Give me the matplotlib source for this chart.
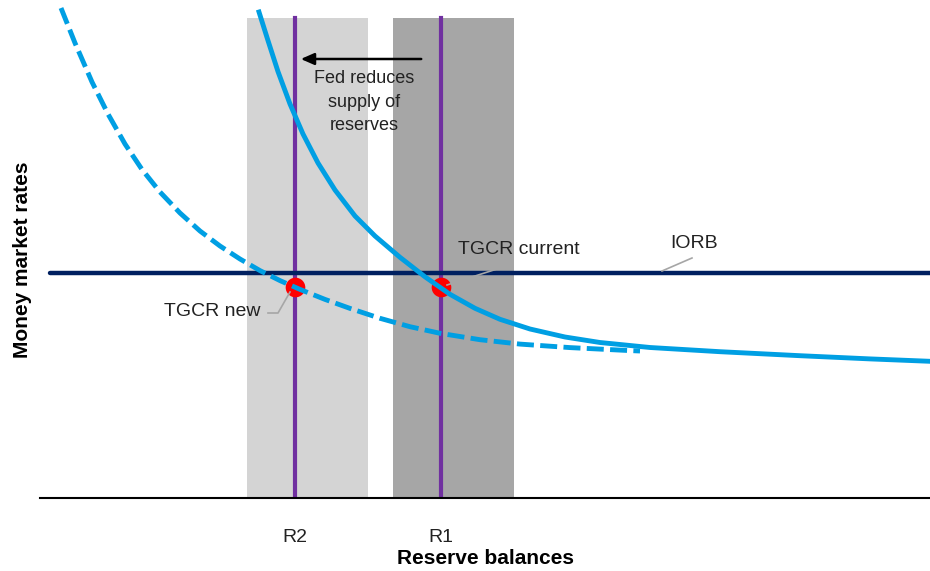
import matplotlib.pyplot as plt
from matplotlib import font_manager

# Conceptual chart: reserve demand curve, x = reserve balances, y = money market rates
# (units are arbitrary, roughly chart pixels)
band_labels = ["R2", "R1"]
band_centers = [295, 441]
band_left = [247, 393]
band_width = 121
band_colors = ["#d4d4d4", "#a6a6a6"]
band_top = 480

iorb_level = 225
iorb_start = 50

# demand curve, current position (solid)
cur_x = [259, 268, 278, 290, 303, 318, 335, 355, 375, 400, 425, 450, 475, 500,
         530, 565, 600, 650, 720, 800, 870, 930]
cur_y = [486, 457.4, 426.4, 394, 364, 335, 308, 282, 262, 240.7, 221.2, 203.7,
         189.7, 178.7, 169, 161, 155.5, 150.5, 146.3, 142.3, 139.1, 136.7]

# demand curve after reserves shift left (dashed)
new_x = [61, 75, 92, 108, 125, 142, 160, 180, 200, 220, 240, 260, 280, 300, 325,
         350, 380, 410, 440, 480, 520, 570, 630, 640]
new_y = [490, 455, 416, 384, 354, 328.5, 306, 285, 267, 252, 239, 227.4, 217.4,
         208.6, 198.6, 189.6, 179.7, 171.3, 164.7, 158.3, 153.9, 150.4, 147.4, 147]

tgcr_x = [295, 441]
tgcr_y = [211, 211]

W, H = 930, 571
fig = plt.figure(figsize=(W / 100, H / 100), dpi=100)
ax = fig.add_axes([40 / W, 73 / H, 890 / W, 498 / H])
ax.set_xlim(40, 930)
ax.set_ylim(0, 498)

names = {f.name for f in font_manager.fontManager.ttflist}
fam = "Liberation Sans Narrow" if "Liberation Sans Narrow" in names else "Liberation Sans"

for left, col in zip(band_left, band_colors):
    ax.bar(left, band_top, width=band_width, align="edge", color=col, zorder=1)
for xc in band_centers:
    ax.plot([xc, xc], [0, band_top], color="#7030a0", lw=3, zorder=2)

ax.plot([iorb_start, 930], [iorb_level, iorb_level], color="#002060", lw=3.2,
        solid_capstyle="round", zorder=3)
ax.plot(new_x, new_y, color="#009fe3", lw=3.5, ls=(0, (3.5, 1.3)), zorder=4)
ax.plot(cur_x, cur_y, color="#009fe3", lw=3.5, solid_joinstyle="round", zorder=4)
ax.scatter(tgcr_x, tgcr_y, s=200, color="#ff0000", zorder=3.5, linewidths=0)

# annotations
ax.annotate("", xy=(298, 439), xytext=(424, 439),
            arrowprops=dict(arrowstyle="-|>,head_length=0.8,head_width=0.35",
                            color="black", lw=1.8), zorder=6)
ax.text(364, 396, "Fed reduces\nsupply of\nreserves", ha="center", va="center",
        fontsize=13, family=fam, color="#222222", linespacing=1.5, zorder=6)
ax.text(458, 249, "TGCR current", ha="left", va="center", fontsize=14,
        family=fam, color="#222222", zorder=6)
ax.plot([447, 500], [213, 230], color="#a6a6a6", lw=1.2, zorder=5)
ax.text(260, 186, "TGCR new", ha="right", va="center", fontsize=14,
        family=fam, color="#222222", zorder=6)
ax.plot([268, 278, 290], [185, 185, 206], color="#a6a6a6", lw=1.2, zorder=5)
ax.text(670, 255, "IORB", ha="left", va="center", fontsize=14,
        family=fam, color="#222222", zorder=6)
ax.plot([662, 692], [227, 240], color="#a6a6a6", lw=1.2, zorder=5)

for sp in ["top", "right", "left"]:
    ax.spines[sp].set_visible(False)
ax.spines["bottom"].set_linewidth(1.5)
ax.set_yticks([])
ax.set_xticks(band_centers)
ax.set_xticklabels(band_labels, fontsize=14, family=fam, color="#222222")
ax.tick_params(axis="x", length=0, pad=22)

fig.text(485 / W, 1 - 558 / H, "Reserve balances", ha="center", va="center",
         fontsize=15, weight="bold", family=fam)
fig.text(22 / W, 1 - 260 / H, "Money market rates", ha="center", va="center",
         fontsize=15, weight="bold", family=fam, rotation=90)

fig.savefig("out.png", dpi=100)
